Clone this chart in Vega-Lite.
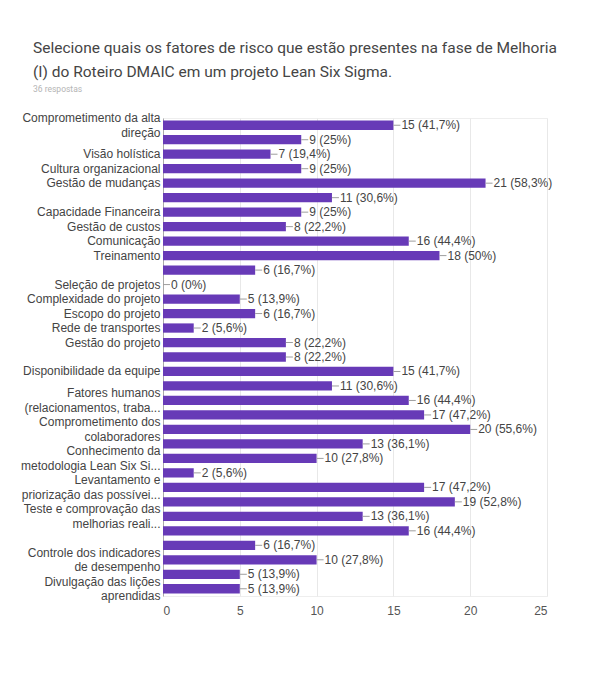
{
  "$schema": "https://vega.github.io/schema/vega-lite/v6.json",
  "width": 384,
  "height": 478,
  "autosize": {"type": "none"},
  "padding": {"left": 163, "top": 118, "right": 52, "bottom": 101},
  "background": "white",
  "title": {
    "text": ["Selecione quais os fatores de risco que estão presentes na fase de Melhoria", "(I) do Roteiro DMAIC em um projeto Lean Six Sigma."],
    "subtitle": "36 respostas",
    "anchor": "start",
    "frame": "group",
    "dx": -130,
    "offset": 18,
    "font": "Roboto",
    "fontSize": 15.5,
    "fontWeight": "normal",
    "color": "#454545",
    "lineHeight": 24,
    "subtitleFont": "Roboto",
    "subtitleFontSize": 8.5,
    "subtitleColor": "#b5b5b5",
    "subtitlePadding": 5
  },
  "data": {
    "values": [
      {"opcao": "Comprometimento da alta|direção", "n": 15, "rotulo": "15 (41,7%)"},
      {"opcao": "#2", "n": 9, "rotulo": "9 (25%)"},
      {"opcao": "Visão holística", "n": 7, "rotulo": "7 (19,4%)"},
      {"opcao": "Cultura organizacional", "n": 9, "rotulo": "9 (25%)"},
      {"opcao": "Gestão de mudanças", "n": 21, "rotulo": "21 (58,3%)"},
      {"opcao": "#6", "n": 11, "rotulo": "11 (30,6%)"},
      {"opcao": "Capacidade Financeira", "n": 9, "rotulo": "9 (25%)"},
      {"opcao": "Gestão de custos", "n": 8, "rotulo": "8 (22,2%)"},
      {"opcao": "Comunicação", "n": 16, "rotulo": "16 (44,4%)"},
      {"opcao": "Treinamento", "n": 18, "rotulo": "18 (50%)"},
      {"opcao": "#11", "n": 6, "rotulo": "6 (16,7%)"},
      {"opcao": "Seleção de projetos", "n": 0, "rotulo": "0 (0%)"},
      {"opcao": "Complexidade do projeto", "n": 5, "rotulo": "5 (13,9%)"},
      {"opcao": "Escopo do projeto", "n": 6, "rotulo": "6 (16,7%)"},
      {"opcao": "Rede de transportes", "n": 2, "rotulo": "2 (5,6%)"},
      {"opcao": "Gestão do projeto", "n": 8, "rotulo": "8 (22,2%)"},
      {"opcao": "#17", "n": 8, "rotulo": "8 (22,2%)"},
      {"opcao": "Disponibilidade da equipe", "n": 15, "rotulo": "15 (41,7%)"},
      {"opcao": "#19", "n": 11, "rotulo": "11 (30,6%)"},
      {"opcao": "Fatores humanos|(relacionamentos, traba...", "n": 16, "rotulo": "16 (44,4%)"},
      {"opcao": "#21", "n": 17, "rotulo": "17 (47,2%)"},
      {"opcao": "Comprometimento dos|colaboradores", "n": 20, "rotulo": "20 (55,6%)"},
      {"opcao": "#23", "n": 13, "rotulo": "13 (36,1%)"},
      {"opcao": "Conhecimento da|metodologia Lean Six Si...", "n": 10, "rotulo": "10 (27,8%)"},
      {"opcao": "#25", "n": 2, "rotulo": "2 (5,6%)"},
      {"opcao": "Levantamento e|priorização das possívei...", "n": 17, "rotulo": "17 (47,2%)"},
      {"opcao": "#27", "n": 19, "rotulo": "19 (52,8%)"},
      {"opcao": "Teste e comprovação das|melhorias reali...", "n": 13, "rotulo": "13 (36,1%)"},
      {"opcao": "#29", "n": 16, "rotulo": "16 (44,4%)"},
      {"opcao": "#30", "n": 6, "rotulo": "6 (16,7%)"},
      {"opcao": "Controle dos indicadores|de desempenho", "n": 10, "rotulo": "10 (27,8%)"},
      {"opcao": "#32", "n": 5, "rotulo": "5 (13,9%)"},
      {"opcao": "Divulgação das lições|aprendidas", "n": 5, "rotulo": "5 (13,9%)"}
    ]
  },
  "encoding": {
    "y": {
      "field": "opcao",
      "type": "nominal",
      "sort": null,
      "scale": {"paddingInner": 0.36, "paddingOuter": 0.18},
      "axis": {
        "title": null,
        "labelExpr": "indexof(datum.value, '#') === 0 ? '' : split(datum.value, '|')",
        "labelFont": "Liberation Sans",
        "labelFontSize": 12,
        "labelColor": "#444444",
        "labelLineHeight": 14.5,
        "labelOffset": {"condition": {"test": "indexof(datum.value, '|') >= 0", "value": -7}, "value": 0},
        "labelOverlap": false,
        "labelPadding": 3,
        "labelLimit": 200,
        "ticks": false,
        "domain": true,
        "domainColor": "#aaaaaa",
        "grid": false
      }
    }
  },
  "layer": [
    {
      "mark": {"type": "bar", "color": "#673ab7"},
      "encoding": {
        "x": {
          "field": "n",
          "type": "quantitative",
          "scale": {"domain": [0, 25], "nice": false},
          "axis": {
            "title": null,
            "values": [0, 5, 10, 15, 20, 25],
            "grid": true,
            "gridColor": "#e8e8e8",
            "domain": false,
            "ticks": false,
            "labelFont": "Liberation Sans",
            "labelFontSize": 12,
            "labelColor": "#555555",
            "labelPadding": 9
          }
        }
      }
    },
    {
      "mark": {"type": "rule", "color": "#9e9e9e", "strokeWidth": 1, "x2Offset": 7},
      "encoding": {
        "x": {"field": "n", "type": "quantitative"},
        "x2": {"field": "n"}
      }
    },
    {
      "mark": {"type": "text", "align": "left", "baseline": "middle", "dx": 8, "font": "Liberation Sans", "fontSize": 12, "color": "#444444"},
      "encoding": {
        "x": {"field": "n", "type": "quantitative"},
        "text": {"field": "rotulo"}
      }
    }
  ],
  "config": {
    "view": {"stroke": "#eeeeee"}
  }
}
